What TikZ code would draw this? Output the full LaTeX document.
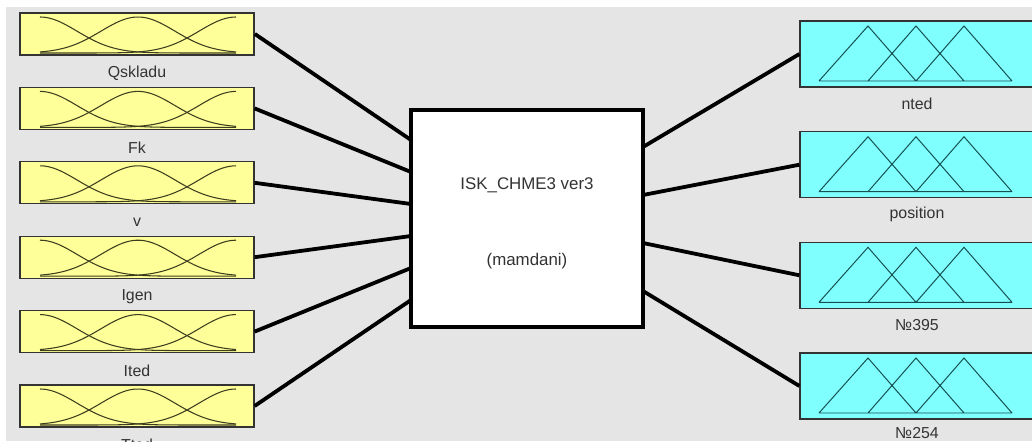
\documentclass[tikz,border=0pt]{standalone}
\usepackage{fontspec}
\setmainfont{Liberation Sans}

\definecolor{bggray}{RGB}{229,229,229}
\definecolor{mfyellow}{RGB}{255,255,153}
\definecolor{mfcyan}{RGB}{128,255,255}
\definecolor{gaussdark}{RGB}{60,60,30}
\definecolor{tridark}{RGB}{20,80,80}

\tikzset{
    inbox/.style={draw=black!80,fill=mfyellow,line width=0.8pt,minimum width=5.85cm,minimum height=1.05cm,inner sep=0pt},
    outbox/.style={draw=black!80,fill=mfcyan,line width=0.8pt,minimum width=5.85cm,minimum height=1.65cm,inner sep=0pt},
    fisbox/.style={draw=black,fill=white,line width=2.4pt,minimum width=5.8cm,minimum height=5.425cm,inner sep=0pt},
    varlabel/.style={text=black!80,font=\fontsize{11.3}{13}\selectfont,inner sep=0pt},
    fistext/.style={text=black!80,font=\fontsize{12}{14}\selectfont,inner sep=0pt},
    link/.style={line width=2.7pt,black},
}

% three gaussian membership functions, #1 = top of the box
\newcommand{\gaussmf}[1]{
    \draw[gaussdark,line width=0.75pt] plot[domain=40:236,samples=60,smooth] (\x,{#1+4+36*(1-exp(-0.5*((\x-40)/37)^2))});
    \draw[gaussdark,line width=0.75pt] plot[domain=40:236,samples=60,smooth] (\x,{#1+4+36*(1-exp(-0.5*((\x-138)/37)^2))});
    \draw[gaussdark,line width=0.75pt] plot[domain=40:236,samples=60,smooth] (\x,{#1+4+36*(1-exp(-0.5*((\x-236)/37)^2))});
}
% three triangular membership functions, #1 = top of the box
\newcommand{\trimf}[1]{
    \draw[tridark,line width=0.7pt] (819,#1+60) -- (1012,#1+60)
        (819,#1+60) -- (868,#1+5) -- (916,#1+60)
        (868,#1+60) -- (916,#1+5) -- (964,#1+60)
        (916,#1+60) -- (964,#1+5) -- (1012,#1+60);
}

\begin{document}
\begin{tikzpicture}[x=0.025cm,y=-0.025cm]
    \useasboundingbox (0,0) rectangle (1032,441);
    \fill[white] (0,0) rectangle (1032,441);
    \fill[bggray] (6,7) rectangle (1032,441);

    % inputs
    \draw (137,34) node[inbox,line width=1.2pt](qskladu) {};
    \draw (137,108.4) node[inbox](fk) {};
    \draw (137,182.8) node[inbox](v) {};
    \draw (137,257.2) node[inbox](igen) {};
    \draw (137,331.6) node[inbox](ited) {};
    \draw (137,406) node[inbox](tted) {};

    \gaussmf{13}
    \gaussmf{87.4}
    \gaussmf{161.8}
    \gaussmf{236.2}
    \gaussmf{310.6}
    \gaussmf{385}

    \draw (137,73) node[varlabel](qskladu-lab) {Qskladu};
    \draw (137,147.4) node[varlabel](fk-lab) {Fk};
    \draw (137,221.8) node[varlabel](v-lab) {v};
    \draw (137,296.2) node[varlabel](igen-lab) {Igen};
    \draw (137,370.6) node[varlabel](ited-lab) {Ited};
    \draw (137,445) node[varlabel](tted-lab) {Tted};

    % outputs
    \draw (917,54) node[outbox](nted) {};
    \draw (917,164.7) node[outbox](position) {};
    \draw (917,275.3) node[outbox](n395) {};
    \draw (917,386) node[outbox](n254) {};

    \trimf{21}
    \trimf{131.7}
    \trimf{242.3}
    \trimf{353}

    \draw (917,104) node[varlabel](nted-lab) {nted};
    \draw (917,214.7) node[varlabel](position-lab) {position};
    \draw (917,325.3) node[varlabel](n395-lab) {№395};
    \draw (917,433) node[varlabel](n254-lab) {№254};

    % system
    \draw (527,218.5) node[fisbox](fis) {};
    \draw (527,185) node[fistext](fis-name) {ISK\_CHME3 ver3};
    \draw (527,261) node[fistext](fis-type) {(mamdani)};

    \coordinate (fis-in1) at (411,140);
    \coordinate (fis-in2) at (411,172);
    \coordinate (fis-in3) at (411,204);
    \coordinate (fis-in4) at (411,236);
    \coordinate (fis-in5) at (411,268);
    \coordinate (fis-in6) at (411,300);

    \coordinate (fis-out1) at (643,147);
    \coordinate (fis-out2) at (643,195);
    \coordinate (fis-out3) at (643,243);
    \coordinate (fis-out4) at (643,291);

    \draw[link] (qskladu.east) -- (fis-in1);
    \draw[link] (fk.east) -- (fis-in2);
    \draw[link] (v.east) -- (fis-in3);
    \draw[link] (igen.east) -- (fis-in4);
    \draw[link] (ited.east) -- (fis-in5);
    \draw[link] (tted.east) -- (fis-in6);

    \draw[link] (fis-out1) -- (nted.west);
    \draw[link] (fis-out2) -- (position.west);
    \draw[link] (fis-out3) -- (n395.west);
    \draw[link] (fis-out4) -- (n254.west);
\end{tikzpicture}
\end{document}
